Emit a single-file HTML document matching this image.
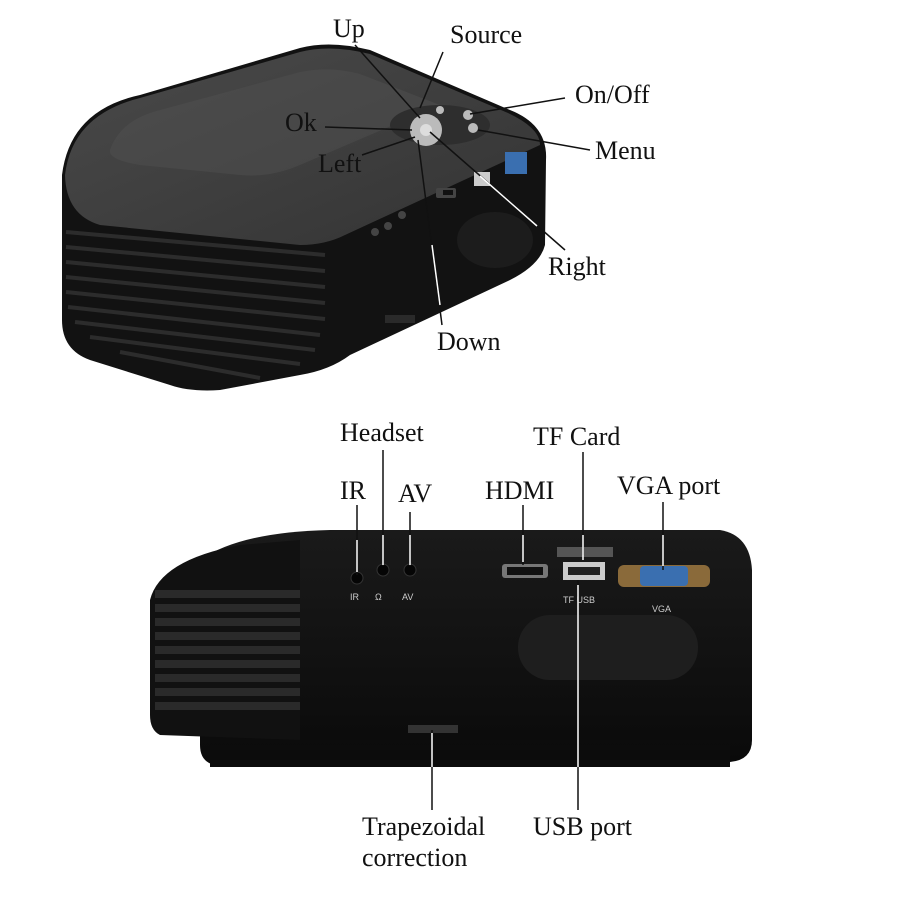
<!DOCTYPE html>
<html><head><meta charset="utf-8"><style>
html,body{margin:0;padding:0;background:#fff;}
svg{display:block}
text{font-family:"Liberation Serif",serif;font-size:26px;fill:#111}
.s{font-family:"Liberation Sans",sans-serif;font-size:9px;fill:#ccc}
</style></head><body>
<svg width="900" height="900" viewBox="0 0 900 900">
<defs>
<linearGradient id="tg" x1="0" y1="0" x2="1" y2="1"><stop offset="0" stop-color="#4a4a4a"/><stop offset="1" stop-color="#333"/></linearGradient>
<linearGradient id="fg" x1="0" y1="0" x2="0" y2="1"><stop offset="0" stop-color="#1a1a1a"/><stop offset="1" stop-color="#0a0a0a"/></linearGradient>
</defs>
<path d="M62,175 Q70,110 140,95 L300,48 Q330,40 370,50 L510,110 Q548,125 546,160 L545,245 Q540,265 510,280 L350,355 Q330,370 300,375 L220,390 Q190,392 170,385 L90,360 Q62,350 62,320 Z" fill="#121212"/>
<path d="M65,175 Q72,115 140,98 L300,52 Q330,44 370,54 L508,113 Q540,128 540,145 L345,235 Q325,245 300,245 L100,225 Q66,215 65,175 Z" fill="url(#tg)"/>
<path d="M110,150 Q120,120 160,110 L300,72 Q330,66 360,74 L440,105 L300,165 Q270,178 240,175 L140,165 Q108,160 110,150 Z" fill="#505050" opacity="0.5"/>
<g stroke="#2c2c2c" stroke-width="4">
<line x1="66" y1="232" x2="325" y2="255"/><line x1="66" y1="247" x2="325" y2="271"/><line x1="66" y1="262" x2="325" y2="287"/><line x1="66" y1="277" x2="325" y2="303"/><line x1="66" y1="292" x2="325" y2="319"/><line x1="68" y1="307" x2="320" y2="335"/><line x1="75" y1="322" x2="315" y2="350"/><line x1="90" y1="337" x2="300" y2="364"/><line x1="120" y1="352" x2="260" y2="378"/>
</g>
<rect x="436" y="188" width="20" height="10" rx="2" fill="#444"/>
<rect x="443" y="190" width="10" height="5" fill="#111"/>
<rect x="474" y="172" width="16" height="14" fill="#ccc"/>
<rect x="505" y="152" width="22" height="22" fill="#3a6fb0"/>
<ellipse cx="495" cy="240" rx="38" ry="28" fill="#1c1c1c"/>
<circle cx="375" cy="232" r="4" fill="#444"/><circle cx="388" cy="226" r="4" fill="#444"/><circle cx="402" cy="215" r="4" fill="#444"/>
<rect x="385" y="315" width="30" height="8" fill="#2a2a2a"/>
<ellipse cx="440" cy="125" rx="50" ry="20" fill="#2e2e2e"/>
<circle cx="426" cy="130" r="16" fill="#bbb"/><circle cx="426" cy="130" r="6" fill="#ddd"/>
<circle cx="440" cy="110" r="4" fill="#bbb"/><circle cx="468" cy="115" r="5" fill="#bbb"/><circle cx="473" cy="128" r="5" fill="#bbb"/>
<g stroke="#111" stroke-width="1.5">
<line x1="355" y1="45" x2="420" y2="118"/><line x1="443" y1="52" x2="420" y2="108"/>
<line x1="565" y1="98" x2="470" y2="114"/><line x1="325" y1="127" x2="412" y2="130"/>
<line x1="590" y1="150" x2="478" y2="130"/><line x1="362" y1="155" x2="415" y2="137"/>
<line x1="565" y1="250" x2="430" y2="132"/><line x1="442" y1="325" x2="418" y2="140"/>
</g>
<g stroke="#fff" stroke-width="1.5">
<line x1="537" y1="226" x2="480" y2="176"/><line x1="440" y1="305" x2="432" y2="245"/>
</g>
<text x="333" y="37">Up</text><text x="450" y="43">Source</text><text x="575" y="103">On/Off</text>
<text x="285" y="131">Ok</text><text x="318" y="172">Left</text>
<text x="595" y="159">Menu</text>
<text x="548" y="275">Right</text><text x="437" y="350">Down</text>
<path d="M200,560 Q240,532 330,530 L720,530 Q750,535 752,570 L752,740 Q752,760 730,762 L215,765 Q200,762 200,745 Z" fill="url(#fg)"/>
<path d="M150,600 Q160,560 240,545 L300,540 L300,740 L160,735 Q150,730 150,715 Z" fill="#111"/>
<g fill="#2a2a2a">
<rect x="155" y="590" width="145" height="8"/><rect x="155" y="604" width="145" height="8"/><rect x="155" y="618" width="145" height="8"/><rect x="155" y="632" width="145" height="8"/><rect x="155" y="646" width="145" height="8"/><rect x="155" y="660" width="145" height="8"/><rect x="155" y="674" width="145" height="8"/><rect x="155" y="688" width="145" height="8"/><rect x="155" y="702" width="145" height="8"/>
</g>
<rect x="210" y="745" width="520" height="22" fill="#0c0c0c"/>
<circle cx="357" cy="578" r="6" fill="#050505" stroke="#333"/>
<circle cx="383" cy="570" r="6" fill="#050505" stroke="#333"/>
<circle cx="410" cy="570" r="6" fill="#050505" stroke="#333"/>
<text class="s" x="350" y="600">IR</text><text class="s" x="375" y="600">Ω</text><text class="s" x="402" y="600">AV</text>
<rect x="502" y="564" width="46" height="14" rx="3" fill="#777"/><rect x="507" y="567" width="36" height="8" fill="#111"/>
<rect x="557" y="547" width="56" height="10" fill="#555"/>
<rect x="563" y="562" width="42" height="18" fill="#ccc"/><rect x="568" y="567" width="32" height="8" fill="#222"/>
<text class="s" x="563" y="603">TF USB</text>
<rect x="618" y="565" width="92" height="22" rx="6" fill="#8a6a3a"/>
<rect x="640" y="566" width="48" height="20" rx="4" fill="#3a6fb0"/>
<text class="s" x="652" y="612">VGA</text>
<rect x="518" y="615" width="180" height="65" rx="32" fill="#1e1e1e"/>
<rect x="408" y="725" width="50" height="8" fill="#333"/>
<g stroke="#111" stroke-width="1.5">
<line x1="357" y1="505" x2="357" y2="575"/><line x1="383" y1="450" x2="383" y2="566"/>
<line x1="410" y1="512" x2="410" y2="566"/><line x1="523" y1="505" x2="523" y2="565"/>
<line x1="583" y1="452" x2="583" y2="555"/><line x1="663" y1="502" x2="663" y2="570"/>
<line x1="432" y1="730" x2="432" y2="810"/><line x1="578" y1="580" x2="578" y2="810"/>
</g>
<g stroke="#fff" stroke-width="1.5">
<line x1="357" y1="540" x2="357" y2="572"/><line x1="383" y1="535" x2="383" y2="565"/><line x1="410" y1="535" x2="410" y2="565"/><line x1="523" y1="535" x2="523" y2="562"/><line x1="583" y1="535" x2="583" y2="560"/><line x1="663" y1="535" x2="663" y2="566"/><line x1="432" y1="733" x2="432" y2="767"/><line x1="578" y1="585" x2="578" y2="767"/>
</g>
<text x="340" y="441">Headset</text><text x="340" y="499">IR</text><text x="398" y="502">AV</text>
<text x="485" y="499">HDMI</text><text x="533" y="445">TF Card</text><text x="617" y="494">VGA port</text>
<text x="362" y="835">Trapezoidal</text><text x="362" y="866">correction</text><text x="533" y="835">USB port</text>
</svg>
</body></html>
